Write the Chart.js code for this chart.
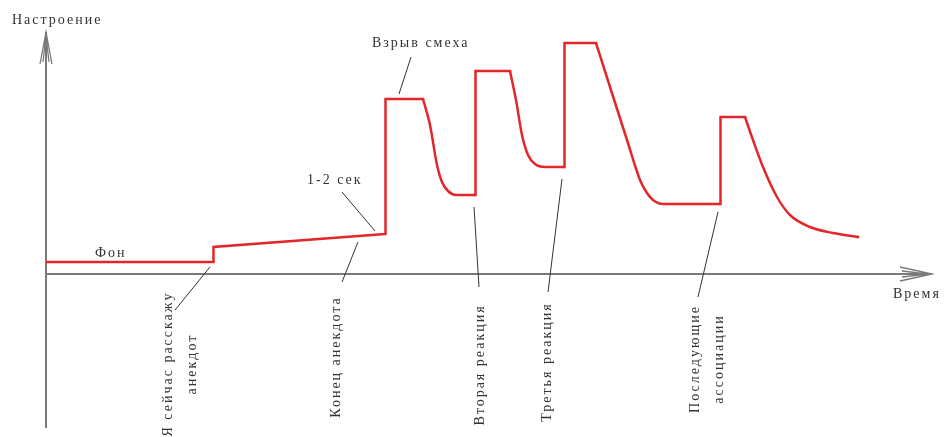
<!DOCTYPE html>
<html>
<head>
<meta charset="utf-8">
<script src="https://cdn.jsdelivr.net/npm/chart.js@4.4.1/dist/chart.umd.min.js"></script>
<style>
html,body{margin:0;padding:0;background:#fff;}
#wrap{width:944px;height:437px;}
</style>
</head>
<body>
<div id="wrap"><canvas id="c" width="944" height="437"></canvas></div>
<script>
// Time (arbitrary units) and mood (arbitrary units)
const timeX = [0,167,167.5,339,339.5,377,
  384,391,396,402,410,429,
  429.5,464,
  470,476,482,489,499,518,
  518.5,550,
  564,581,594,601,607,617,674,
  674.5,699,
  707,717,731,744,764,787,812];
const mood = [12,12,27,40,175,175,
  149,109,92,83,79,79,
  203,203,
  174,139,119,110,107,107,
  231,231,
  187,134,94,81,74,70,70,
  157,157,
  134,107,77,59,47,41,37];
// index ranges of the smooth decay parts (after each burst)
const decays = [[5,11],[13,19],[21,28],[30,37]];

// Axis labels
const yAxisTitle = 'Настроение';
const xAxisTitle = 'Время';

// Annotations: text lines, anchor (data units), rotation
const notes = [
  {lines:['Фон'], x:49, y:21, rot:false},
  {lines:['1-2 сек'], x:261, y:94, rot:false},
  {lines:['Взрыв смеха'], x:326, y:231, rot:false},
  {lines:['Я сейчас расскажу','анекдот'], x:122, y:-90, rot:true},
  {lines:['Конец анекдота'], x:290, y:-83, rot:true},
  {lines:['Вторая реакция'], x:434, y:-91, rot:true},
  {lines:['Третья реакция'], x:501, y:-88, rot:true},
  {lines:['Последующие','ассоциации'], x:649, y:-85, rot:true}
];
// Leader lines (data units): [x1,y1,x2,y2]
const leaders = [
  [164,7,129,-36],
  [312,32,296,-8],
  [296,82,329,43],
  [365,217,353,180],
  [428,67,433,-13],
  [516,95,502,-18],
  [672,62,652,-23]
];

const pt = i => ({x: timeX[i], y: mood[i]});
const straightPts = [], curvePts = [];
let prevEnd = 0;
decays.forEach(([a,b])=>{
  for(let i=prevEnd;i<=a;i++) straightPts.push(pt(i));
  straightPts.push({x: timeX[a]+0.1, y: null});
  for(let i=a;i<=b;i++) curvePts.push(pt(i));
  curvePts.push({x: timeX[b]+0.1, y: null});
  prevEnd = b;
});
for(let i=prevEnd;i<timeX.length;i++) straightPts.push(pt(i));

const overlay = {
  id:'overlay',
  beforeDatasetsDraw(chart){
    const ctx = chart.ctx, xs = chart.scales.x, ys = chart.scales.y;
    const px = v=>xs.getPixelForValue(v), py = v=>ys.getPixelForValue(v);
    ctx.save();
    ctx.strokeStyle = '#7a7a7a';
    ctx.lineWidth = 2;
    const x0 = px(0), y0 = py(0);
    ctx.beginPath();
    ctx.moveTo(x0, ys.bottom); ctx.lineTo(x0, ys.top);
    ctx.moveTo(xs.left, y0); ctx.lineTo(xs.right, y0);
    ctx.stroke();
    ctx.lineWidth = 1.3;
    ctx.beginPath();
    ctx.moveTo(x0-6, ys.top+32); ctx.lineTo(x0, ys.top); ctx.lineTo(x0+6, ys.top+32);
    ctx.moveTo(x0-3, ys.top+30); ctx.lineTo(x0, ys.top+4); ctx.lineTo(x0+3, ys.top+30);
    ctx.moveTo(xs.right-32, y0-7); ctx.lineTo(xs.right, y0); ctx.lineTo(xs.right-32, y0+7);
    ctx.moveTo(xs.right-30, y0-3); ctx.lineTo(xs.right-4, y0); ctx.lineTo(xs.right-30, y0+3);
    ctx.stroke();
    ctx.restore();
  },
  afterDatasetsDraw(chart){
    const ctx = chart.ctx, xs = chart.scales.x, ys = chart.scales.y;
    const px = v=>xs.getPixelForValue(v), py = v=>ys.getPixelForValue(v);
    const x0 = px(0);
    ctx.save();
    ctx.strokeStyle = '#333';
    ctx.lineWidth = 1;
    ctx.beginPath();
    leaders.forEach(l=>{ctx.moveTo(px(l[0]),py(l[1]));ctx.lineTo(px(l[2]),py(l[3]));});
    ctx.stroke();
    ctx.fillStyle = '#333';
    ctx.font = '14px "Liberation Serif", "DejaVu Serif", serif';
    try{ctx.letterSpacing='2px';}catch(e){}
    ctx.textBaseline = 'middle';
    ctx.textAlign = 'left';
    ctx.fillText(yAxisTitle, x0-34, ys.top-12);
    ctx.fillText(xAxisTitle, xs.right-39, py(-20));
    notes.forEach(n=>{
      if(!n.rot){
        ctx.textAlign='left';
        ctx.fillText(n.lines[0], px(n.x), py(n.y));
      } else {
        ctx.save();
        ctx.translate(px(n.x), py(n.y));
        ctx.rotate(-Math.PI/2);
        ctx.textAlign='center';
        n.lines.forEach((t,i)=>ctx.fillText(t, 0, i*24));
        ctx.restore();
      }
    });
    ctx.restore();
  }
};

const lineStyle = {borderColor:'#e3262a', borderWidth:2.5, pointRadius:0, fill:false, spanGaps:false, borderJoinStyle:'miter', borderCapStyle:'square'};

new Chart(document.getElementById('c'), {
  type:'line',
  data:{datasets:[
    Object.assign({data: straightPts, tension:0}, lineStyle),
    Object.assign({data: curvePts, cubicInterpolationMode:'monotone'}, lineStyle, {borderCapStyle:'butt'})
  ]},
  options:{
    responsive:false,
    animation:false,
    devicePixelRatio:1,
    layout:{padding:{left:46,right:12,top:32,bottom:9}},
    plugins:{legend:{display:false},tooltip:{enabled:false}},
    scales:{
      x:{type:'linear',min:0,max:886,display:false},
      y:{type:'linear',min:-154,max:242,display:false}
    }
  },
  plugins:[overlay]
});
</script>
</body>
</html>
